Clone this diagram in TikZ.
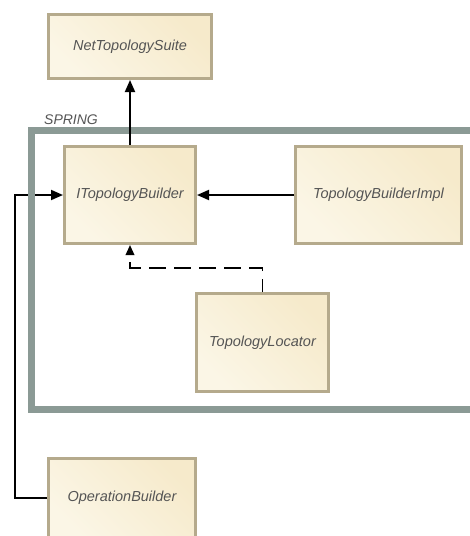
\documentclass[tikz,border=0pt]{standalone}
\usepackage{fontspec}
\setmainfont{Liberation Sans}
\usetikzlibrary{arrows.meta}
\definecolor{boxfill1}{HTML}{FBF6E6}
\definecolor{boxfill2}{HTML}{F6EACB}
\definecolor{boxborder}{HTML}{B5AA8C}
\definecolor{txtgray}{HTML}{555555}
\definecolor{framegray}{HTML}{8B9A95}
\tikzset{
  comp/.style={draw=boxborder, line width=3pt, left color=boxfill1, right color=boxfill2, shading angle=135,
    text=txtgray, font=\itshape\fontsize{14.5}{17}\selectfont, inner sep=0pt},
  conn/.style={line width=1.8pt, draw=black, -{Triangle[length=12pt,width=10pt]}},
  dconn/.style={line width=1.8pt, draw=black, dash pattern=on 17pt off 8pt, -{Triangle[length=10pt,width=8.5pt]}},
}
\begin{document}
\begin{tikzpicture}[x=1pt,y=-1pt]
\useasboundingbox (0,0) rectangle (470,536);
\clip (0,0) rectangle (470,536);
% nodes
\node[comp, minimum width=163pt, minimum height=64pt] (nts) at (130,46.5) {NetTopologySuite};
\node[comp, minimum width=131pt, minimum height=97pt] (itb) at (130,195) {ITopologyBuilder};
\node[comp, minimum width=166pt, minimum height=97pt] (tbi) at (378.5,195) {TopologyBuilderImpl};
\node[comp, minimum width=132pt, minimum height=98pt] (tl) at (262.5,342.5) {TopologyLocator};
\node[comp, minimum width=147pt, minimum height=79pt] (ob) at (122,498) {OperationBuilder};
\coordinate (lcorner) at (15,498);
\coordinate (dcorner) at (262.5,268);
% left connector (under the frame)
\draw[conn] (ob.west) -- (lcorner) |- (itb.west);
% frame
\draw[framegray, line width=7pt] (480,130) -- (31.5,130) -- (31.5,409) -- (480,409);
\node[anchor=south west, inner sep=0pt, text=txtgray, font=\itshape\fontsize{14}{17}\selectfont] (spring) at (44,125) {SPRING};
% connectors
\draw[conn] (itb.north) -- (nts.south);
\draw[conn] (tbi.west) -- (itb.east);
\draw[dconn, dash phase=4pt] (tl.north) -- (dcorner) -| (itb.south);
\end{tikzpicture}
\end{document}
